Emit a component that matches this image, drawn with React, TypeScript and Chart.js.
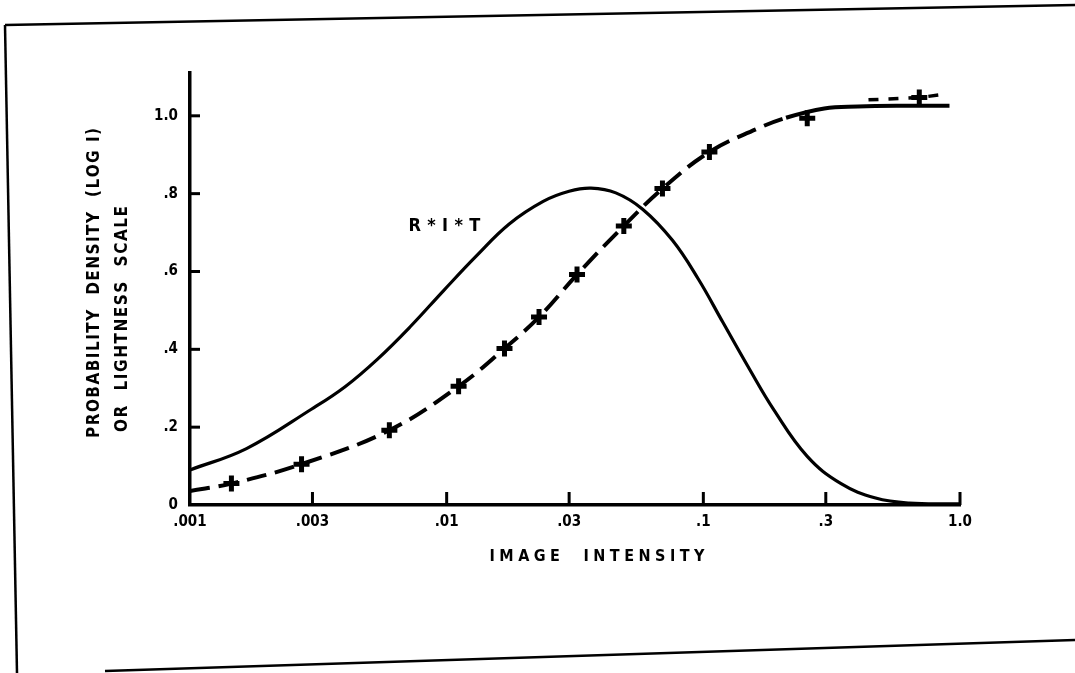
import { useEffect, useRef } from "react";
import { Chart, registerables } from "chart.js";

Chart.register(...registerables);

// ---- axis ticks ----
const xTickValues = [0.001, 0.003, 0.01, 0.03, 0.1, 0.3, 1];
const xTickLabels = [".001", ".003", ".01", ".03", ".1", ".3", "1.0"];
const yTickValues = [0, 0.2, 0.4, 0.6, 0.8, 1.0];
const yTickLabels = ["0", ".2", ".4", ".6", ".8", "1.0"];

// ---- R*I*T (solid) curve ----
const ritX = [0.001, 0.00166, 0.00297, 0.00402, 0.00538, 0.00721, 0.00973, 0.01306, 0.01753, 0.02377, 0.03, 0.0365, 0.0456, 0.058, 0.0758, 0.0957, 0.119, 0.151, 0.188, 0.254, 0.344, 0.469, 0.634, 1.0];
const ritY = [0.09, 0.145, 0.246, 0.304, 0.375, 0.458, 0.551, 0.64, 0.722, 0.78, 0.806, 0.814, 0.802, 0.76, 0.68, 0.58, 0.47, 0.35, 0.245, 0.125, 0.055, 0.018, 0.005, 0.003];

// ---- lightness (dashed, becoming solid near the top) ----
const lightX = [0.001, 0.00145, 0.00272, 0.00598, 0.01113, 0.0168, 0.0229, 0.0322, 0.049, 0.0693, 0.1056, 0.16, 0.21, 0.296, 0.4, 0.6, 0.91];
const lightY = [0.036, 0.055, 0.105, 0.192, 0.305, 0.402, 0.483, 0.592, 0.717, 0.813, 0.907, 0.965, 0.995, 1.019, 1.024, 1.026, 1.026];
const lightSolidFrom = 0.21;

// ---- upper short dashed piece ----
const upperX = [0.44, 0.694, 0.865];
const upperY = [1.041, 1.047, 1.055];

// ---- plus markers ----
const markX = [0.00145, 0.00272, 0.00598, 0.01113, 0.0168, 0.0229, 0.0322, 0.049, 0.0693, 0.1056, 0.254, 0.694];
const markY = [0.055, 0.105, 0.192, 0.305, 0.402, 0.483, 0.592, 0.717, 0.813, 0.907, 0.994, 1.047];

// ---- texts ----
const curveLabel = "R*I*T";
const curveLabelAt = [0.0098, 0.715];
const yTitle1 = "PROBABILITY  DENSITY  (LOG I)";
const yTitle2 = "OR  LIGHTNESS  SCALE";
const xTitle = "IMAGE  INTENSITY";

const FONT = "'DejaVu Sans Condensed', 'DejaVu Sans', sans-serif";

function pts(xs: number[], ys: number[]) {
  return xs.map((x, i) => ({ x, y: ys[i] }));
}

function drawSpaced(ctx: CanvasRenderingContext2D, text: string, x: number, y: number, width: number, size: number, align: "left" | "center") {
  let s = size;
  ctx.font = `bold ${s}px ${FONT}`;
  let w = ctx.measureText(text).width;
  while (w > width * 0.97 && s > 8) {
    s -= 0.5;
    ctx.font = `bold ${s}px ${FONT}`;
    w = ctx.measureText(text).width;
  }
  const chars = Array.from(text);
  const widths = chars.map((c) => ctx.measureText(c).width);
  const total = widths.reduce((a, b) => a + b, 0);
  const extra = chars.length > 1 ? (width - total) / (chars.length - 1) : 0;
  let cx = align === "center" ? x - width / 2 : x;
  ctx.textAlign = "left";
  ctx.textBaseline = "middle";
  chars.forEach((c, i) => {
    ctx.fillText(c, cx, y);
    cx += widths[i] + extra;
  });
}

const decor = {
  id: "decor",
  afterDraw(chart: any) {
    const { ctx, chartArea: a, scales } = chart;
    const xs = scales.x;
    const ys = scales.y;
    ctx.save();
    ctx.strokeStyle = "#000";
    ctx.fillStyle = "#000";
    ctx.lineCap = "butt";
    const line = (x1: number, y1: number, x2: number, y2: number, w: number) => {
      ctx.lineWidth = w;
      ctx.beginPath();
      ctx.moveTo(x1, y1);
      ctx.lineTo(x2, y2);
      ctx.stroke();
    };
    // inward tick marks
    yTickValues.forEach((v) => {
      if (v === 0) return;
      const py = ys.getPixelForValue(v);
      line(a.left, py, a.left + 10, py, 3);
    });
    xTickValues.forEach((v, i) => {
      if (i === 0) return;
      const px = xs.getPixelForValue(v);
      line(px, a.bottom, px, a.bottom - 13, 3);
    });
    // page frame
    line(5, 25, 1075, 5, 2.5);
    line(5, 25, 17, 673, 2.5);
    line(105, 671, 1075, 640, 2.5);

    // curve label
    const lx = xs.getPixelForValue(curveLabelAt[0]);
    const ly = ys.getPixelForValue(curveLabelAt[1]);
    drawSpaced(ctx, curveLabel, lx, ly, 72, 18, "center");

    // x title
    drawSpaced(ctx, xTitle, (a.left + a.right) / 2 + 22, a.bottom + 52, 215, 16, "center");

    // y titles (rotated)
    ctx.save();
    ctx.translate(a.left - 95, a.bottom - 67);
    ctx.rotate(-Math.PI / 2);
    drawSpaced(ctx, yTitle1, 0, 0, 310, 17, "left");
    ctx.restore();
    ctx.save();
    ctx.translate(a.left - 67, a.bottom - 73);
    ctx.rotate(-Math.PI / 2);
    drawSpaced(ctx, yTitle2, 0, 0, 226, 17, "left");
    ctx.restore();

    ctx.restore();
  },
};

export default function App() {
  const ref = useRef<HTMLCanvasElement | null>(null);

  useEffect(() => {
    if (!ref.current) return;
    const chart = new Chart(ref.current, {
      type: "line",
      data: {
        datasets: [
          {
            label: "markers",
            data: pts(markX, markY),
            showLine: false,
            pointStyle: "cross",
            pointRadius: 8,
            pointBorderWidth: 5,
            pointBorderColor: "#000",
            pointBackgroundColor: "#000",
            borderColor: "#000",
          },
          {
            label: "R*I*T",
            data: pts(ritX, ritY),
            borderColor: "#000",
            borderWidth: 3.2,
            pointRadius: 0,
            tension: 0.4,
            fill: false,
          },
          {
            label: "lightness",
            data: pts(lightX, lightY),
            borderColor: "#000",
            borderWidth: 4,
            borderDash: [20, 9],
            pointRadius: 0,
            tension: 0.4,
            fill: false,
            segment: {
              borderDash: (c: any) => (c.p0.parsed.x >= lightSolidFrom ? [] : [20, 9]),
            },
          },
          {
            label: "upper",
            data: pts(upperX, upperY),
            borderColor: "#000",
            borderWidth: 3.5,
            borderDash: [10, 10],
            pointRadius: 0,
            fill: false,
          },
        ] as any,
      },
      options: {
        animation: false,
        responsive: true,
        maintainAspectRatio: false,
        layout: { padding: { top: 73, right: 115, left: 0, bottom: 0 } },
        plugins: {
          legend: { display: false },
          tooltip: { enabled: false },
        },
        scales: {
          x: {
            type: "logarithmic",
            min: 0.001,
            max: 1,
            afterBuildTicks: (s: any) => {
              s.ticks = xTickValues.map((v) => ({ value: v }));
            },
            afterFit: (s: any) => {
              s.height = 168;
            },
            grid: { display: false, drawTicks: false },
            border: { display: true, color: "#000", width: 3.5 },
            ticks: {
              autoSkip: false,
              maxRotation: 0,
              minRotation: 0,
              padding: 8,
              color: "#000",
              font: { family: FONT, size: 15, weight: "bold" },
              callback: (v: any) => {
                const i = xTickValues.findIndex((t) => Math.abs(t - Number(v)) < 1e-9);
                return i >= 0 ? xTickLabels[i] : "";
              },
            },
          },
          y: {
            type: "linear",
            min: 0,
            max: 1.11,
            afterBuildTicks: (s: any) => {
              s.ticks = yTickValues.map((v) => ({ value: v }));
            },
            afterFit: (s: any) => {
              s.width = 190;
            },
            grid: { display: false, drawTicks: false },
            border: { display: true, color: "#000", width: 3.5 },
            ticks: {
              padding: 12,
              color: "#000",
              font: { family: FONT, size: 15, weight: "bold" },
              callback: (v: any) => {
                const i = yTickValues.findIndex((t) => Math.abs(t - Number(v)) < 1e-9);
                return i >= 0 ? yTickLabels[i] : "";
              },
            },
          },
        },
      } as any,
      plugins: [decor],
    });
    return () => chart.destroy();
  }, []);

  return (
    <div style={{ position: "fixed", left: 0, top: 0, width: 1075, height: 673, background: "#fff" }}>
      <canvas ref={ref} />
    </div>
  );
}
